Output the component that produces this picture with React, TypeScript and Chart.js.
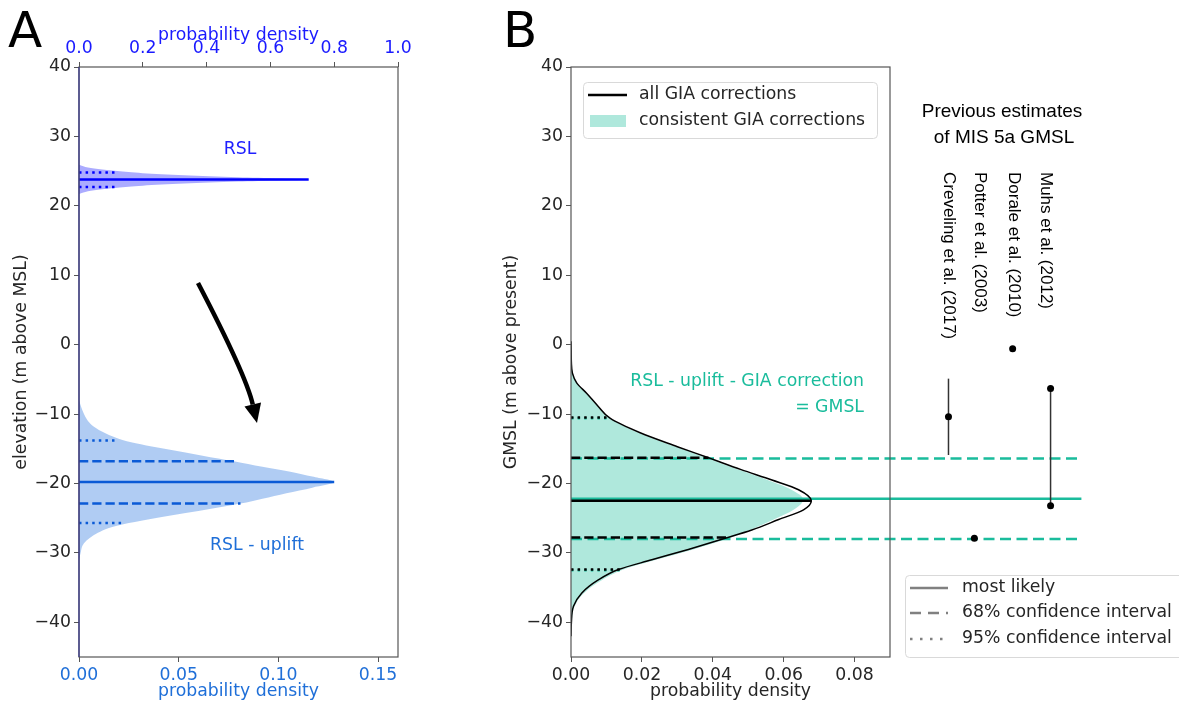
import React, { useEffect, useRef } from 'react';
import { Chart, registerables } from 'chart.js';

Chart.register(...registerables);

const FONT = "'DejaVu Sans', sans-serif";
const ARIAL = "'Liberation Sans', Arial, sans-serif";
const FS = 17.3;
const INK = '#262626';
const SPINE = '#555555';
const TEAL = '#1abc9c';
const TEAL_FILL = 'rgba(26,188,156,0.35)';
const BLUE = '#0000ff';
const BLUE_FILL = 'rgba(0,0,255,0.33)';
const LBLUE = '#0a5ad6';
const LBLUE_TXT = '#1f6fd8';
const LBLUE_FILL = 'rgba(30,110,220,0.35)';

// ---------- tick values / labels ----------
const yTicks = [-40, -30, -20, -10, 0, 10, 20, 30, 40];
const yTickLabels = ['\u221240', '\u221230', '\u221220', '\u221210', '0', '10', '20', '30', '40'];
const aBottomTicks = [0, 0.05, 0.1, 0.15];
const aBottomLabels = ['0.00', '0.05', '0.10', '0.15'];
const aTopTicks = [0, 0.2, 0.4, 0.6, 0.8, 1.0];
const aTopLabels = ['0.0', '0.2', '0.4', '0.6', '0.8', '1.0'];
const bTicks = [0, 0.02, 0.04, 0.06, 0.08];
const bTickLabels = ['0.00', '0.02', '0.04', '0.06', '0.08'];

// ---------- Panel A: RSL density (top axis) ----------
const rslElev = [25.9, 25.6, 25.3, 25.0, 24.7, 24.4, 24.1, 23.8, 23.5, 23.2, 22.9, 22.6, 22.3, 22.0, 21.7];
const rslDens = [0, 0.02, 0.06, 0.12, 0.2, 0.33, 0.5, 0.72, 0.5, 0.33, 0.2, 0.12, 0.06, 0.02, 0];
const rslMostLikely = 23.8;
const rslMostLikelyDens = 0.72;
const rsl95Elev = [24.8, 22.7];
const rsl95Dens = [0.113, 0.118];

// ---------- Panel A: RSL - uplift density (bottom axis) ----------
const upElev = [-8.0, -8.9, -10.0, -10.8, -11.6, -12.5, -13.9, -15.1, -16.0, -16.8, -17.6, -18.3, -19.0, -19.8, -20.6, -21.4, -22.2, -22.9, -23.6, -24.3, -25.0, -25.7, -26.4, -27.1, -28.6, -30.0, -31.0];
const upDens = [0, 0.001, 0.0025, 0.004, 0.0065, 0.0115, 0.024, 0.045, 0.062, 0.0777, 0.092, 0.106, 0.117, 0.128, 0.117, 0.104, 0.092, 0.081, 0.067, 0.0527, 0.038, 0.025, 0.015, 0.0095, 0.0025, 0.0008, 0];
const upMostLikely = -19.8;
const upMostLikelyDens = 0.128;
const up68Elev = [-16.8, -22.9];
const up68Dens = [0.0786, 0.081];
const up95Elev = [-13.8, -25.7];
const up95Dens = [0.0192, 0.0217];

// ---------- Panel B: GMSL, all GIA corrections ----------
const allElev = [0.5, -1.0, -2.5, -4.1, -5.5, -7.0, -8.9, -10.6, -12.7, -14.7, -16.3, -18.0, -19.5, -20.9, -22.5, -23.8, -25.2, -26.7, -27.9, -29.5, -31.0, -32.4, -33.9, -35.8, -37.7, -40.1, -42.0];
const allDens = [0, 0.00005, 0.0001, 0.0004, 0.0016, 0.0044, 0.0077, 0.011, 0.0195, 0.030, 0.0388, 0.048, 0.0567, 0.0642, 0.0678, 0.0656, 0.0586, 0.051, 0.0435, 0.0331, 0.0228, 0.0134, 0.0077, 0.003, 0.0007, 0.0001, 0];
const allMostLikely = -22.5;
const allMostLikelyDens = 0.0678;
const all68Elev = [-16.3, -27.8];
const all68Dens = [0.0388, 0.044];
const all95Elev = [-10.5, -32.4];
const all95Dens = [0.0105, 0.0138];

// ---------- Panel B: GMSL, consistent GIA corrections ----------
const conElev = [-2.0, -3.0, -4.1, -5.5, -7.0, -8.9, -10.6, -12.7, -14.7, -16.3, -18.0, -19.5, -20.9, -22.3, -23.8, -25.2, -26.7, -27.9, -29.5, -31.0, -32.4, -33.9, -35.8, -37.7, -40.1, -42.0];
const conDens = [0, 0.0002, 0.0005, 0.0016, 0.0043, 0.0076, 0.011, 0.019, 0.0295, 0.0382, 0.0472, 0.0555, 0.0622, 0.0655, 0.0628, 0.0572, 0.0505, 0.0445, 0.0345, 0.024, 0.0148, 0.0088, 0.0036, 0.001, 0.0002, 0];
const conMostLikely = -22.2;
const con68Elev = [-16.4, -28.0];
const con95Elev = [-10.6, -32.5];
const con95Dens = [0.011, 0.0148];
const conLineEnd = 0.144;

// ---------- Panel B: previous estimates of MIS 5a GMSL ----------
const estNames = ['Creveling et al. (2017)', 'Potter et al. (2003)', 'Dorale et al. (2010)', 'Muhs et al. (2012)'];
const estPointX = [0.1065, 0.1138, 0.1246, 0.1353, 0.1353];
const estPointY = [-10.4, -27.9, -0.6, -6.3, -23.2];
const estBarX = [0.1065, 0.1353];
const estBarLow = [-15.9, -23.2];
const estBarHigh = [-4.9, -6.3];

// ---------- helpers ----------
type P = { x: number; y: number };
const pts = (xs: number[], ys: number[]): P[] => ys.map((y, i) => ({ x: xs[i], y }));
const hline = (y: number, x1: number): P[] => [{ x: 0, y }, { x: x1, y }];

const DASH = [9.25, 4];
const DOT = [2.5, 4.1];

function lineDs(data: P[], color: string, width: number, dash: number[], axis = 'x', extra: any = {}) {
  return {
    data, borderColor: color, borderWidth: width, borderDash: dash, borderCapStyle: 'butt',
    pointRadius: 0, fill: false, xAxisID: axis, yAxisID: 'y', tension: 0, ...extra,
  };
}
function curveDs(data: P[], color: string, width: number, axis = 'x', extra: any = {}) {
  return {
    data, borderColor: color, borderWidth: width, pointRadius: 0, fill: false,
    xAxisID: axis, yAxisID: 'y', cubicInterpolationMode: 'monotone', ...extra,
  };
}
function fillDs(data: P[], color: string, axis = 'x', extra: any = {}) {
  return {
    data, borderWidth: 0, borderColor: 'rgba(0,0,0,0)', backgroundColor: color, fill: 'origin',
    pointRadius: 0, xAxisID: axis, yAxisID: 'y', cubicInterpolationMode: 'monotone', ...extra,
  };
}
// list is bottom -> top; Chart.js draws higher "order" first
function layered(list: any[]) {
  return list.map((d, i) => ({ ...d, order: list.length - i }));
}

const tickFont = { family: FONT, size: FS };

function yScale(width: number, title: string, titlePad: number) {
  return {
    type: 'linear', position: 'left', min: -45, max: 40,
    afterBuildTicks: (s: any) => { s.ticks = yTicks.map((v) => ({ value: v })); },
    afterFit: (s: any) => { s.width = width; },
    ticks: { callback: (_v: any, i: number) => yTickLabels[i], color: INK, font: tickFont, padding: 3, autoSkip: false },
    grid: { drawOnChartArea: false, drawTicks: true, tickLength: 5, color: SPINE, lineWidth: 1 },
    border: { display: false },
    title: { display: true, text: title, color: INK, font: tickFont, padding: { top: titlePad, bottom: 0 } },
  };
}

function xScale(opts: {
  position: string; min: number; max: number; ticks: number[]; labels: string[];
  height: number; color: string; title: string; titlePad: any;
}) {
  return {
    type: 'linear', axis: 'x', position: opts.position, min: opts.min, max: opts.max,
    afterBuildTicks: (s: any) => { s.ticks = opts.ticks.map((v) => ({ value: v })); },
    afterFit: (s: any) => { s.height = opts.height; },
    ticks: { callback: (_v: any, i: number) => opts.labels[i], color: opts.color, font: tickFont, padding: 3, autoSkip: false, maxRotation: 0 },
    grid: { drawOnChartArea: false, drawTicks: true, tickLength: 5, color: SPINE, lineWidth: 1 },
    border: { display: false },
    title: { display: true, text: opts.title, color: opts.color, font: tickFont, padding: opts.titlePad },
  };
}

// lets flagged datasets (markers placed right of the axes box) draw outside the chart area
const wideAreaPlugin = {
  id: 'wideArea',
  beforeDatasetDraw(chart: any, args: any) {
    const ds = chart.data.datasets[args.index];
    if (ds && ds.wideArea) {
      chart.$savedArea = chart.chartArea;
      chart.chartArea = { ...chart.chartArea, left: 0, top: 0, right: chart.width, bottom: chart.height };
    }
  },
  afterDatasetDraw(chart: any) {
    if (chart.$savedArea) {
      chart.chartArea = chart.$savedArea;
      chart.$savedArea = null;
    }
  },
};

// ---------- Panel A ----------
const panelAPlugin = {
  id: 'panelA',
  afterDatasetsDraw(chart: any) {
    const { ctx, chartArea: a } = chart;
    ctx.save();
    ctx.strokeStyle = SPINE;
    ctx.lineWidth = 1.2;
    ctx.strokeRect(a.left, a.top, a.right - a.left, a.bottom - a.top);
    ctx.strokeStyle = '#34348c';
    ctx.beginPath();
    ctx.moveTo(a.left, a.top);
    ctx.lineTo(a.left, a.bottom);
    ctx.stroke();

    ctx.font = `${FS}px ${FONT}`;
    ctx.textAlign = 'center';
    ctx.textBaseline = 'middle';
    ctx.fillStyle = '#1f1fff';
    ctx.fillText('RSL', 240, 150);
    ctx.fillStyle = LBLUE_TXT;
    ctx.fillText('RSL - uplift', 257, 546);

    // curved arrow
    const T = { x: 198, y: 283 };
    const C = { x: 246, y: 375 };
    const H = { x: 257, y: 423 };
    const dx = H.x - C.x, dy = H.y - C.y;
    const len = Math.hypot(dx, dy);
    const ux = dx / len, uy = dy / len;
    const Bx = H.x - 19 * ux, By = H.y - 19 * uy;
    ctx.strokeStyle = '#000';
    ctx.lineWidth = 4.5;
    ctx.lineCap = 'butt';
    ctx.beginPath();
    ctx.moveTo(T.x, T.y);
    ctx.quadraticCurveTo(C.x, C.y, Bx, By);
    ctx.stroke();
    ctx.fillStyle = '#000';
    ctx.beginPath();
    ctx.moveTo(H.x, H.y);
    ctx.lineTo(Bx + 8.5 * uy, By - 8.5 * ux);
    ctx.lineTo(Bx - 8.5 * uy, By + 8.5 * ux);
    ctx.closePath();
    ctx.fill();

    ctx.fillStyle = '#000';
    ctx.font = `50px ${FONT}`;
    ctx.textAlign = 'left';
    ctx.textBaseline = 'alphabetic';
    ctx.fillText('A', 8, 47);
    ctx.restore();
  },
};

function configA(): any {
  const datasets = layered([
    fillDs(pts(rslDens, rslElev), BLUE_FILL, 'x2'),
    fillDs(pts(upDens, upElev), LBLUE_FILL, 'x'),
    lineDs(hline(rslMostLikely, rslMostLikelyDens), BLUE, 2.5, [], 'x2'),
    lineDs(hline(rsl95Elev[0], rsl95Dens[0]), BLUE, 2.5, DOT, 'x2'),
    lineDs(hline(rsl95Elev[1], rsl95Dens[1]), BLUE, 2.5, DOT, 'x2'),
    lineDs(hline(upMostLikely, upMostLikelyDens), LBLUE, 2.5, [], 'x'),
    lineDs(hline(up68Elev[0], up68Dens[0]), LBLUE, 2.5, DASH, 'x'),
    lineDs(hline(up68Elev[1], up68Dens[1]), LBLUE, 2.5, DASH, 'x'),
    lineDs(hline(up95Elev[0], up95Dens[0]), LBLUE, 2.5, DOT, 'x'),
    lineDs(hline(up95Elev[1], up95Dens[1]), LBLUE, 2.5, DOT, 'x'),
  ]);
  return {
    type: 'line',
    data: { datasets },
    options: {
      animation: false,
      responsive: false,
      indexAxis: 'y',
      layout: { padding: { left: 0, right: 42, top: 0, bottom: 0 } },
      plugins: { legend: { display: false }, tooltip: { enabled: false } },
      scales: {
        y: yScale(79, 'elevation (m above MSL)', 11),
        x: xScale({
          position: 'bottom', min: 0, max: 0.16, ticks: aBottomTicks, labels: aBottomLabels,
          height: 44, color: LBLUE_TXT, title: 'probability density', titlePad: { top: 0, bottom: -1 },
        }),
        x2: xScale({
          position: 'top', min: 0, max: 1, ticks: aTopTicks, labels: aTopLabels,
          height: 67, color: '#1a1aff', title: 'probability density', titlePad: { top: 25, bottom: 0 },
        }),
      },
    },
    plugins: [panelAPlugin],
  };
}

// ---------- Panel B ----------
const OX = 470;
const panelBPlugin = {
  id: 'panelB',
  afterDatasetsDraw(chart: any) {
    const { ctx, chartArea: a } = chart;
    ctx.save();
    ctx.strokeStyle = SPINE;
    ctx.lineWidth = 1.2;
    ctx.strokeRect(a.left, a.top, a.right - a.left, a.bottom - a.top);

    // annotation text
    ctx.font = `${FS}px ${FONT}`;
    ctx.fillStyle = TEAL;
    ctx.textAlign = 'right';
    ctx.textBaseline = 'middle';
    ctx.fillText('RSL - uplift - GIA correction', 864 - OX, 382);
    ctx.fillText('= GMSL', 864 - OX, 408);

    // previous estimates heading
    ctx.fillStyle = '#000';
    ctx.font = `19px ${ARIAL}`;
    ctx.textAlign = 'center';
    ctx.fillText('Previous estimates', 1002 - OX, 112);
    ctx.fillText('of MIS 5a GMSL', 1004 - OX, 138);

    // rotated study labels
    ctx.font = `17px ${ARIAL}`;
    const labelX = [949, 980, 1014, 1046];
    estNames.forEach((name, i) => {
      ctx.save();
      ctx.translate(labelX[i] - OX, 172);
      ctx.rotate(Math.PI / 2);
      ctx.textAlign = 'left';
      ctx.textBaseline = 'middle';
      ctx.fillText(name, 0, 0);
      ctx.restore();
    });

    // legend 1
    const rr = (x: number, y: number, w: number, h: number, r: number) => {
      ctx.beginPath();
      ctx.moveTo(x + r, y);
      ctx.lineTo(x + w - r, y);
      ctx.arcTo(x + w, y, x + w, y + r, r);
      ctx.lineTo(x + w, y + h - r);
      ctx.arcTo(x + w, y + h, x + w - r, y + h, r);
      ctx.lineTo(x + r, y + h);
      ctx.arcTo(x, y + h, x, y + h - r, r);
      ctx.lineTo(x, y + r);
      ctx.arcTo(x, y, x + r, y, r);
      ctx.closePath();
    };
    ctx.lineWidth = 1;
    ctx.strokeStyle = '#d9d9d9';
    ctx.fillStyle = 'rgba(255,255,255,0.8)';
    rr(583 - OX + 0.5, 82.5, 294, 56, 4);
    ctx.fill();
    ctx.stroke();
    ctx.strokeStyle = '#000';
    ctx.lineWidth = 2.5;
    ctx.beginPath();
    ctx.moveTo(588 - OX, 95);
    ctx.lineTo(627 - OX, 95);
    ctx.stroke();
    ctx.fillStyle = TEAL_FILL;
    ctx.fillRect(590 - OX, 115, 36, 12);
    ctx.fillStyle = INK;
    ctx.font = `${FS}px ${FONT}`;
    ctx.textAlign = 'left';
    ctx.textBaseline = 'middle';
    ctx.fillText('all GIA corrections', 639 - OX, 95);
    ctx.fillText('consistent GIA corrections', 639 - OX, 121);

    // legend 2
    ctx.lineWidth = 1;
    ctx.strokeStyle = '#d9d9d9';
    ctx.fillStyle = 'rgba(255,255,255,0.8)';
    rr(905 - OX + 0.5, 575.5, 300, 82, 4);
    ctx.fill();
    ctx.stroke();
    const rows = [
      { y: 588, dash: [] as number[], text: 'most likely' },
      { y: 613, dash: [11, 7], text: '68% confidence interval' },
      { y: 639, dash: [2.5, 7.5], text: '95% confidence interval' },
    ];
    rows.forEach((r) => {
      ctx.strokeStyle = '#808080';
      ctx.lineWidth = 2.5;
      ctx.setLineDash(r.dash);
      ctx.beginPath();
      ctx.moveTo(910 - OX, r.y);
      ctx.lineTo(948 - OX, r.y);
      ctx.stroke();
      ctx.setLineDash([]);
      ctx.fillStyle = INK;
      ctx.fillText(r.text, 962 - OX, r.y);
    });

    ctx.fillStyle = '#000';
    ctx.font = `50px ${FONT}`;
    ctx.textAlign = 'left';
    ctx.textBaseline = 'alphabetic';
    ctx.fillText('B', 503 - OX, 47);
    ctx.restore();
  },
};

function configB(): any {
  const noClip = { clip: false };
  const estBars = estBarX.map((x, i) =>
    lineDs([{ x, y: estBarLow[i] }, { x, y: estBarHigh[i] }], '#333333', 1.5, [], 'x', noClip)
  );
  const datasets = layered([
    fillDs(pts(conDens, conElev), TEAL_FILL, 'x'),
    lineDs(hline(conMostLikely, conLineEnd), TEAL, 2.5, [], 'x', noClip),
    lineDs(hline(con68Elev[0], conLineEnd), TEAL, 2.5, [11, 5.5], 'x', noClip),
    lineDs(hline(con68Elev[1], conLineEnd), TEAL, 2.5, [11, 5.5], 'x', noClip),
    lineDs(hline(con95Elev[0], con95Dens[0]), TEAL, 2.5, DOT, 'x'),
    lineDs(hline(con95Elev[1], con95Dens[1]), TEAL, 2.5, DOT, 'x'),
    curveDs(pts(allDens, allElev), '#000000', 1.5, 'x'),
    lineDs(hline(allMostLikely, allMostLikelyDens), '#000000', 2.5, [], 'x'),
    lineDs(hline(all68Elev[0], all68Dens[0]), '#000000', 2.5, DASH, 'x'),
    lineDs(hline(all68Elev[1], all68Dens[1]), '#000000', 2.5, DASH, 'x'),
    lineDs(hline(all95Elev[0], all95Dens[0]), '#000000', 2.5, DOT, 'x'),
    lineDs(hline(all95Elev[1], all95Dens[1]), '#000000', 2.5, DOT, 'x'),
    ...estBars,
    {
      data: pts(estPointX, estPointY), showLine: false, pointRadius: 3.5, pointHoverRadius: 3.5,
      pointBackgroundColor: '#000', pointBorderColor: '#000', pointBorderWidth: 0,
      xAxisID: 'x', yAxisID: 'y', clip: false, wideArea: true,
    },
  ]);
  return {
    type: 'line',
    data: { datasets },
    options: {
      animation: false,
      responsive: false,
      indexAxis: 'y',
      layout: { padding: { left: 0, right: 289, top: 67, bottom: 0 } },
      plugins: { legend: { display: false }, tooltip: { enabled: false } },
      scales: {
        y: yScale(101, 'GMSL (m above present)', 31),
        x: xScale({
          position: 'bottom', min: 0, max: 0.09, ticks: bTicks, labels: bTickLabels,
          height: 44, color: INK, title: 'probability density', titlePad: { top: 0, bottom: -1 },
        }),
      },
    },
    plugins: [wideAreaPlugin, panelBPlugin],
  };
}

function ChartCanvas({ make, left, width }: { make: () => any; left: number; width: number }) {
  const ref = useRef<HTMLCanvasElement>(null);
  useEffect(() => {
    const chart = new Chart(ref.current as HTMLCanvasElement, make());
    return () => chart.destroy();
  }, []);
  return (
    <canvas
      ref={ref}
      width={width}
      height={701}
      style={{ position: 'absolute', left, top: 0, width, height: 701 }}
    />
  );
}

export default function App() {
  Chart.defaults.font.family = FONT;
  Chart.defaults.font.size = FS;
  return (
    <div style={{ position: 'fixed', left: 0, top: 0, width: 1179, height: 701, background: '#fff', overflow: 'hidden' }}>
      <ChartCanvas make={configA} left={0} width={440} />
      <ChartCanvas make={configB} left={OX} width={709} />
    </div>
  );
}
